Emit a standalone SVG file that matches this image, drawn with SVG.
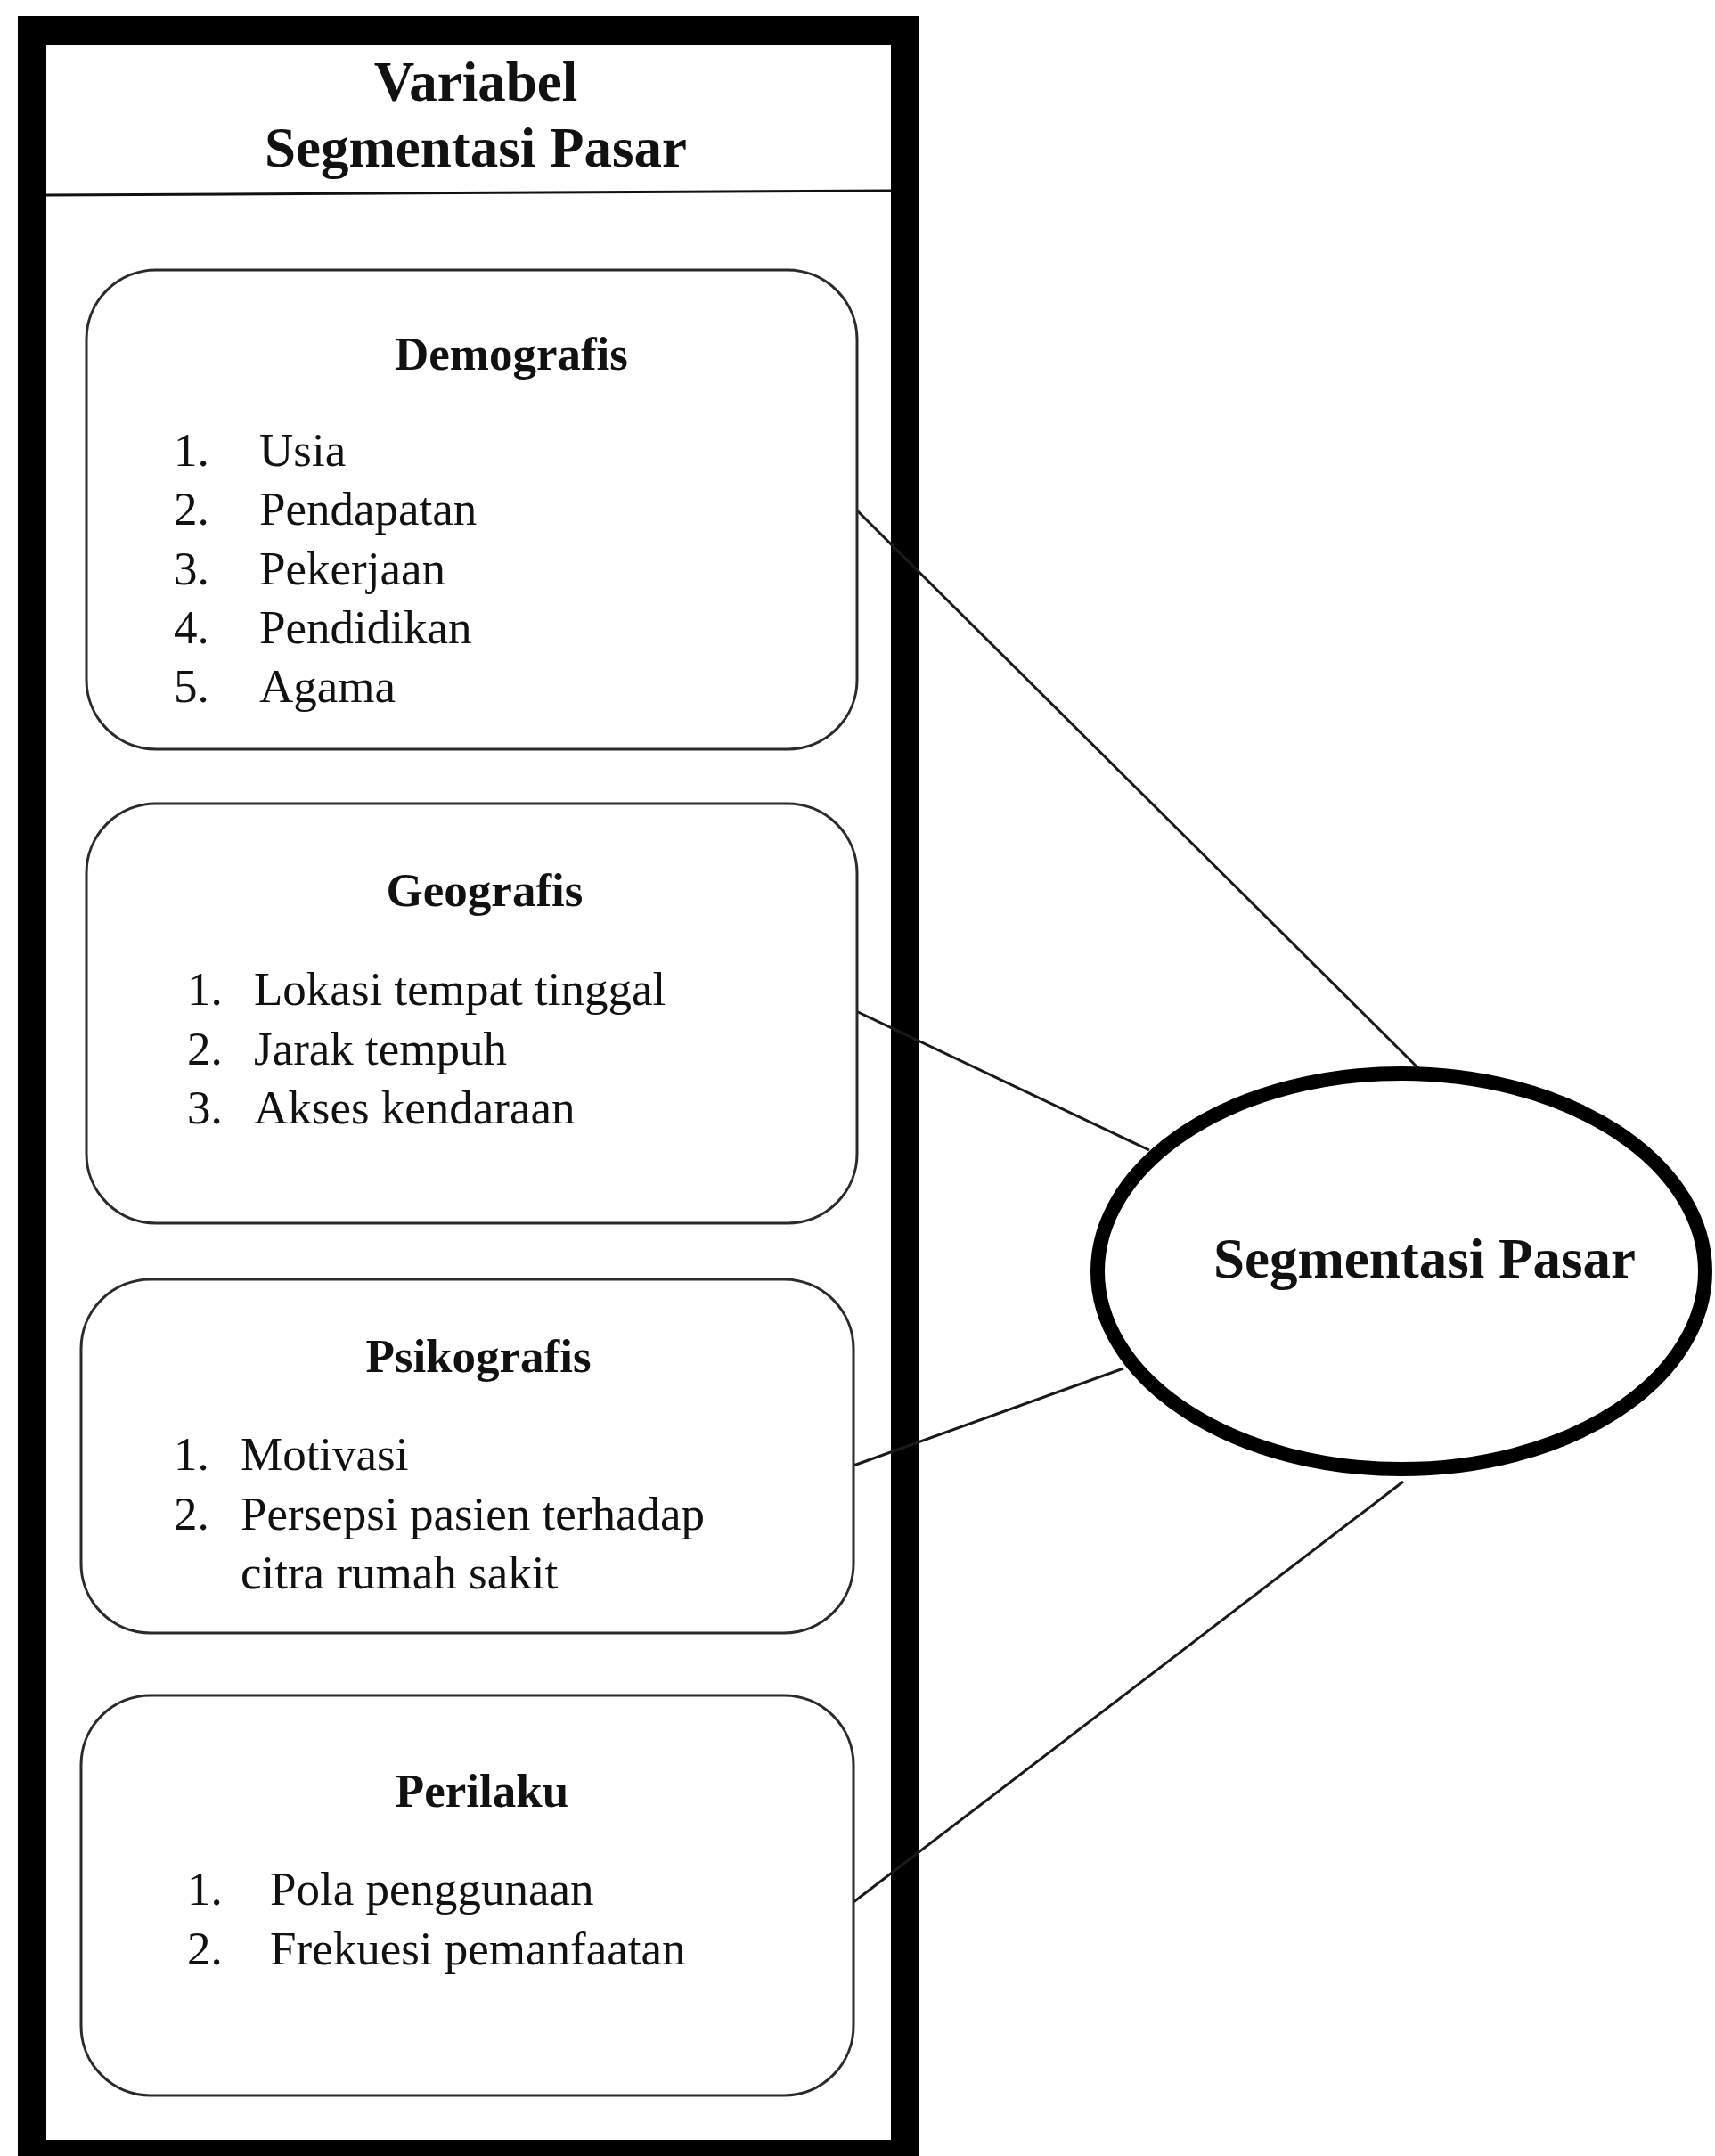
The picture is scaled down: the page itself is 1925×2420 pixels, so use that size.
<svg xmlns="http://www.w3.org/2000/svg" width="1925" height="2420" viewBox="0 0 1925 2420">
<style>
.box{fill:#fff;stroke:#2a2a2a;stroke-width:3}
.conn{stroke:#1a1a1a;stroke-width:3;fill:none}
.h{font-family:"Liberation Serif","Times New Roman",serif;font-weight:bold;fill:#111}
.t{font-family:"Liberation Serif","Times New Roman",serif;font-size:53px;fill:#111}
</style>
<rect x="0" y="0" width="1925" height="2420" fill="#fff"/>
<g id="frame">
<rect x="36" y="34" width="980" height="2384" fill="#fff" stroke="#000" stroke-width="32"/>
<line x1="52" y1="219" x2="1000" y2="214" stroke="#111" stroke-width="3"/>
<text class="h" font-size="63" x="534" y="113" text-anchor="middle">Variabel</text>
<text class="h" font-size="63" x="534" y="187" text-anchor="middle">Segmentasi Pasar</text>
</g>
<g id="connectors">
<line class="conn" x1="961" y1="572" x2="1592" y2="1199"/>
<line class="conn" x1="961" y1="1135" x2="1290" y2="1291"/>
<line class="conn" x1="958" y1="1645" x2="1261" y2="1536"/>
<line class="conn" x1="958" y1="2135" x2="1575" y2="1663"/>
</g>
<g id="demografis">
<rect class="box" x="97" y="303" width="865" height="538" rx="78" ry="78"/>
<text class="h" font-size="53" x="574" y="415" text-anchor="middle">Demografis</text>
<text class="t" x="195" y="523">1.</text><text class="t" x="291" y="523">Usia</text>
<text class="t" x="195" y="589">2.</text><text class="t" x="291" y="589">Pendapatan</text>
<text class="t" x="195" y="656">3.</text><text class="t" x="291" y="656">Pekerjaan</text>
<text class="t" x="195" y="722">4.</text><text class="t" x="291" y="722">Pendidikan</text>
<text class="t" x="195" y="788">5.</text><text class="t" x="291" y="788">Agama</text>
</g>
<g id="geografis">
<rect class="box" x="97" y="902" width="865" height="471" rx="78" ry="78"/>
<text class="h" font-size="53" x="544" y="1017" text-anchor="middle">Geografis</text>
<text class="t" x="210" y="1128">1.</text><text class="t" x="285" y="1128">Lokasi tempat tinggal</text>
<text class="t" x="210" y="1195">2.</text><text class="t" x="285" y="1195">Jarak tempuh</text>
<text class="t" x="210" y="1261">3.</text><text class="t" x="285" y="1261">Akses kendaraan</text>
</g>
<g id="psikografis">
<rect class="box" x="91" y="1436" width="867" height="397" rx="78" ry="78"/>
<text class="h" font-size="53" x="537" y="1540" text-anchor="middle">Psikografis</text>
<text class="t" x="195" y="1650">1.</text><text class="t" x="270" y="1650">Motivasi</text>
<text class="t" x="195" y="1717">2.</text><text class="t" x="270" y="1717">Persepsi pasien terhadap</text>
<text class="t" x="270" y="1783">citra rumah sakit</text>
</g>
<g id="perilaku">
<rect class="box" x="91" y="1903" width="867" height="449" rx="78" ry="78"/>
<text class="h" font-size="53" x="541" y="2028" text-anchor="middle">Perilaku</text>
<text class="t" x="210" y="2138">1.</text><text class="t" x="303" y="2138">Pola penggunaan</text>
<text class="t" x="210" y="2205">2.</text><text class="t" x="303" y="2205">Frekuesi pemanfaatan</text>
</g>
<g id="segmentasi-pasar">
<ellipse cx="1573" cy="1427" rx="341" ry="222" fill="#fff" stroke="#000" stroke-width="16"/>
<text class="h" font-size="63" x="1599" y="1434" text-anchor="middle">Segmentasi Pasar</text>
</g>
</svg>
